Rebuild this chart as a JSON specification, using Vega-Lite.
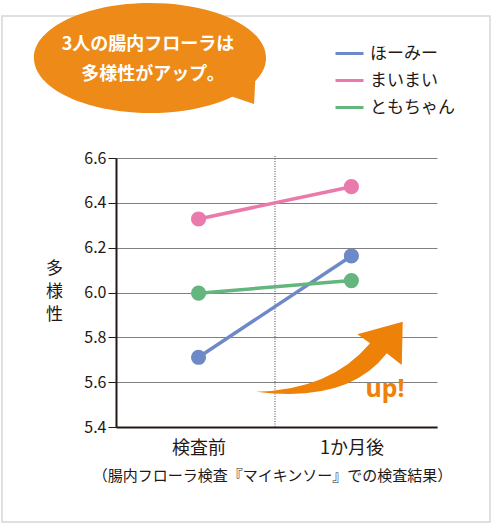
{
  "$schema": "https://vega.github.io/schema/vega-lite/v6.json",
  "width": 321,
  "height": 269,
  "autosize": {"type": "none"},
  "padding": {"left": 116, "top": 158, "right": 55, "bottom": 97},
  "background": "white",
  "config": {
    "font": "Noto Sans CJK JP",
    "view": {"stroke": null}
  },
  "layer": [
    {
      "data": {"values": [{"x1": -1.2858, "x2": 1.9067, "y1": 4.9762, "y2": 7.2334}]},
      "mark": {"type": "rect", "filled": false, "stroke": "#d6d6d6", "strokeWidth": 1.5},
      "encoding": {
        "x": {"field": "x1", "type": "quantitative"},
        "x2": {"field": "x2"},
        "y": {"field": "y1", "type": "quantitative"},
        "y2": {"field": "y2"}
      }
    },
    {
      "data": {"values": [{"x": -0.3176, "y": 7.046}]},
      "mark": {
        "type": "point",
        "filled": true,
        "opacity": 1,
        "color": "#ee8a18",
        "strokeWidth": 0,
        "size": 57600,
        "shape": "M -0.967 0 A 0.967 0.458 0 1 1 0.967 0 A 0.967 0.458 0 1 1 -0.967 0 Z M 0.62 0.3 L 0.88 0.14 L 0.867 0.383 Z"
      },
      "encoding": {
        "x": {"field": "x", "type": "quantitative"},
        "y": {"field": "y", "type": "quantitative"}
      }
    },
    {
      "data": {"values": [
        {"x": -0.3307, "y": 7.104, "text": "3人の腸内フローラは"},
        {"x": -0.298, "y": 6.970, "text": "多様性がアップ。"}
      ]},
      "mark": {"type": "text", "color": "white", "fontSize": 18, "fontWeight": "bold", "baseline": "middle", "align": "center"},
      "encoding": {
        "x": {"field": "x", "type": "quantitative"},
        "y": {"field": "y", "type": "quantitative"},
        "text": {"field": "text"}
      }
    },
    {
      "data": {"values": [{"x": 0.5, "y1": 5.4, "y2": 6.61}]},
      "mark": {"type": "rule", "color": "#444444", "strokeWidth": 1, "strokeDash": [1, 1.5]},
      "encoding": {
        "x": {"field": "x", "type": "quantitative"},
        "y": {"field": "y1", "type": "quantitative"},
        "y2": {"field": "y2"}
      }
    },
    {
      "data": {"values": [
        {"name": "ほーみー", "t": 0, "value": 5.711},
        {"name": "ほーみー", "t": 1, "value": 6.163},
        {"name": "まいまい", "t": 0, "value": 6.328},
        {"name": "まいまい", "t": 1, "value": 6.472},
        {"name": "ともちゃん", "t": 0, "value": 5.997},
        {"name": "ともちゃん", "t": 1, "value": 6.053}
      ]},
      "mark": {"type": "line", "strokeWidth": 3.5, "point": {"filled": true, "size": 230, "opacity": 1}},
      "encoding": {
        "x": {
          "field": "t",
          "type": "quantitative",
          "scale": {"domain": [-0.54, 1.56], "nice": false, "zero": false},
          "axis": {
            "values": [0, 1],
            "labelExpr": "datum.value == 0 ? '検査前' : '1か月後'",
            "grid": false,
            "ticks": false,
            "domainColor": "#231815",
            "domainWidth": 2,
            "labelFontSize": 18,
            "labelColor": "#231815",
            "labelPadding": 12,
            "title": "（腸内フローラ検査『マイキンソー』での検査結果）",
            "titleFontSize": 15,
            "titleFontWeight": "normal",
            "titleColor": "#231815",
            "titleX": 156,
            "titleY": 48,
            "titleBaseline": "middle"
          }
        },
        "y": {
          "field": "value",
          "type": "quantitative",
          "scale": {"domain": [5.4, 6.6], "nice": false, "zero": false},
          "axis": {
            "values": [5.4, 5.6, 5.8, 6.0, 6.2, 6.4, 6.6],
            "format": ".1f",
            "grid": true,
            "gridColor": "#808080",
            "gridWidth": 1,
            "domainColor": "#231815",
            "domainWidth": 2,
            "tickColor": "#231815",
            "tickSize": 8,
            "labelFontSize": 16,
            "labelColor": "#231815",
            "labelPadding": 2,
            "title": ["多", "様", "性"],
            "titleAngle": 0,
            "titleX": -62,
            "titleY": 102,
            "titleAlign": "center",
            "titleBaseline": "top",
            "titleFontSize": 17,
            "titleFontWeight": "normal",
            "titleLineHeight": 23,
            "titleColor": "#231815"
          }
        },
        "color": {
          "field": "name",
          "type": "nominal",
          "scale": {
            "domain": ["ほーみー", "まいまい", "ともちゃん"],
            "range": ["#6e89c7", "#e97aab", "#64b67e"]
          },
          "legend": {
            "orient": "none",
            "legendX": 218,
            "legendY": -120,
            "title": null,
            "symbolType": "stroke",
            "symbolSize": 784,
            "symbolStrokeWidth": 3,
            "labelFontSize": 17,
            "labelColor": "#231815",
            "labelOffset": 5,
            "rowPadding": 3
          }
        }
      }
    },
    {
      "data": {"values": [{"x": 0.857, "y": 5.7056}]},
      "mark": {
        "type": "point",
        "filled": true,
        "opacity": 1,
        "color": "#ee8209",
        "strokeWidth": 0,
        "size": 22500,
        "shape": "M -0.98 0.443 Q 0.25 0.6 0.763 -0.069 L 0.963 0.087 L 0.976 -0.491 L 0.371 -0.323 L 0.54 -0.203 Q 0.02 0.42 -0.98 0.443 Z"
      },
      "encoding": {
        "x": {"field": "x", "type": "quantitative"},
        "y": {"field": "y", "type": "quantitative"}
      }
    },
    {
      "data": {"values": [{"x": 1.2198, "y": 5.534, "text": "up!"}]},
      "mark": {"type": "text", "color": "#ee8209", "font": "Noto Sans", "fontSize": 25, "fontWeight": "bold", "align": "center", "baseline": "alphabetic"},
      "encoding": {
        "x": {"field": "x", "type": "quantitative"},
        "y": {"field": "y", "type": "quantitative"},
        "text": {"field": "text"}
      }
    }
  ]
}
